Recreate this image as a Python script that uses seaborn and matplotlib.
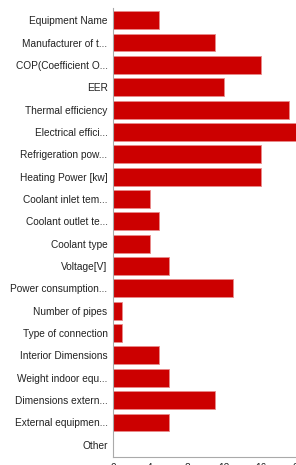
import pandas as pd
import numpy as np
from matplotlib import pyplot as plt
import seaborn as sns

categorias = ['Equipment Name', 'Manufacturer of t...', 'COP(Coefficient O...', 'EER',
              'Thermal efficiency', 'Electrical effici...', 'Refrigeration pow...',
              'Heating Power [kw]', 'Coolant inlet tem...', 'Coolant outlet te...',
              'Coolant type', 'Voltage[V]', 'Power consumption...', 'Number of pipes',
              'Type of connection', 'Interior Dimensions', 'Weight indoor equ...',
              'Dimensions extern...', 'External equipmen...', 'Other']
valores = [5, 11, 16, 12, 19, 20, 16, 16, 4, 5, 4, 6, 13, 1, 1, 5, 6, 11, 6, 0]
ticks_x = [0, 4, 8, 12, 16, 20]

df = pd.DataFrame({'categoria': categorias, 'valor': valores})

sns.set_style('white')
plt.rcParams['font.family'] = ['Liberation Sans', 'DejaVu Sans']

fig = plt.figure(figsize=(2.96, 4.65), dpi=100)
ax = fig.add_axes([0.382, 0.017, 0.625, 0.966])

sns.barplot(data=df, x='valor', y='categoria', orient='h', color='#cc0000',
            saturation=1, width=0.8, edgecolor='#e88a8a', linewidth=0.6, ax=ax)

ax.set_xlim(0, 20)
ax.set_ylim(19.55, -0.55)
ax.set_xticks(ticks_x)
ax.set_xlabel('')
ax.set_ylabel('')
ax.tick_params(axis='y', labelsize=7.3, length=3, width=0.6, color='#aaaaaa', pad=1, labelcolor='#222222')
ax.tick_params(axis='x', labelsize=7.3, length=3, width=0.6, color='#aaaaaa', pad=1, labelcolor='#222222')
for lado in ['top', 'right']:
    ax.spines[lado].set_visible(False)
for lado in ['left', 'bottom']:
    ax.spines[lado].set_color('#aaaaaa')
    ax.spines[lado].set_linewidth(0.8)

plt.savefig('out.png', dpi=100)
